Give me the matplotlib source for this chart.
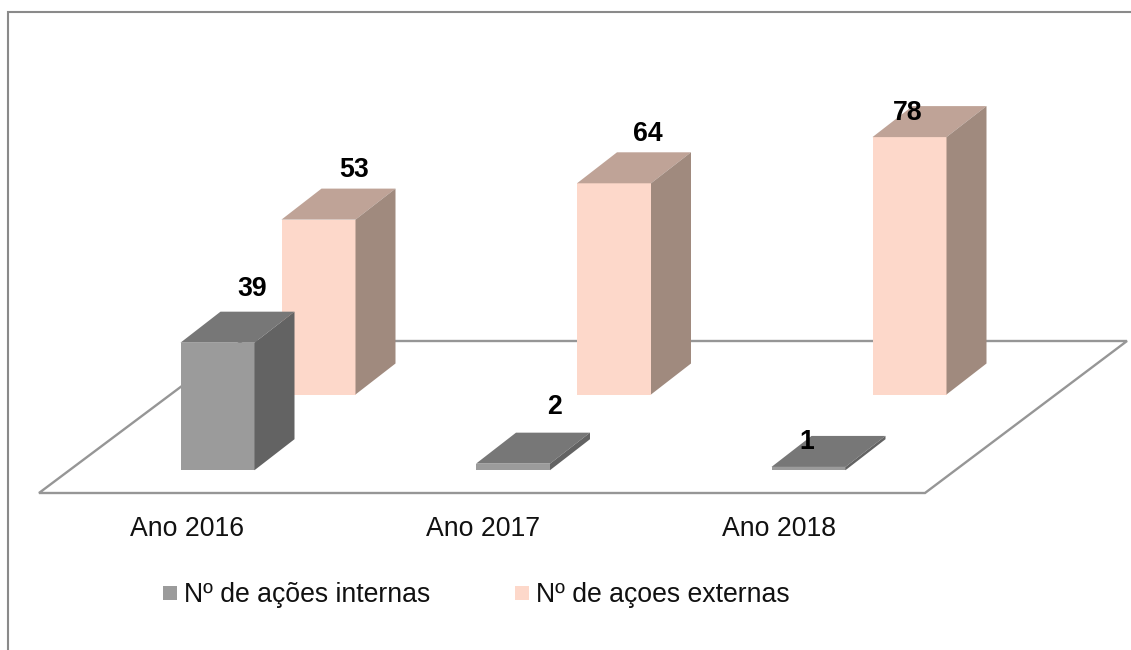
import matplotlib
matplotlib.use("Agg")
import matplotlib.pyplot as plt
from matplotlib.patches import Polygon, Rectangle

plt.rcParams['font.family'] = ['Liberation Sans', 'DejaVu Sans']

# --- Data ---
categories = ["Ano 2016", "Ano 2017", "Ano 2018"]
internas = [39, 2, 1]
externas = [53, 64, 78]
legend_labels = ["Nº de ações internas", "Nº de açoes externas"]

# --- Fake 3D geometry, in pixels ---
PX_PER_UNIT_BACK = 3.3
PX_PER_UNIT_FRONT = 3.27
BAR_W = 74
DEPTH_X, DEPTH_Y = 40, 31
SLOT = 295.5
FRONT_X0, FRONT_BASE = 180.5, 470.2
BACK_X0, BACK_BASE = 281.5, 394.5

GREY = ("#9b9b9b", "#777777", "#636363")
PEACH = ("#fdd8ca", "#bfa397", "#a08a7e")
LINE = "#969696"
TEXT_SIZE = 19.2


def draw_bar(ax, x, base, value, scale, colors, z):
    top = base - value * scale
    front, lid, side = colors
    ax.add_patch(Rectangle((x, top), BAR_W, base - top, fc=front, ec="none", zorder=z))
    ax.add_patch(Polygon([(x, top), (x + BAR_W, top),
                          (x + BAR_W + DEPTH_X, top - DEPTH_Y), (x + DEPTH_X, top - DEPTH_Y)],
                         fc=lid, ec="none", zorder=z))
    ax.add_patch(Polygon([(x + BAR_W, top), (x + BAR_W + DEPTH_X, top - DEPTH_Y),
                          (x + BAR_W + DEPTH_X, base - DEPTH_Y), (x + BAR_W, base)],
                         fc=side, ec="none", zorder=z))
    return top


fig = plt.figure(figsize=(11.31, 6.5), dpi=100)
ax = fig.add_axes([0, 0, 1, 1])
ax.set_xlim(0, 1131)
ax.set_ylim(650, 0)
ax.axis("off")

# chart frame, only top and left are visible in the crop
ax.plot([7.5, 7.5, 1131], [650, 12, 12], color="#8a8a8a", lw=1.5, solid_joinstyle="miter", zorder=1)

# floor
ax.add_patch(Polygon([(39, 493), (925, 493), (1127, 341), (242, 341)], closed=True,
                     fc="white", ec=LINE, lw=1.7, zorder=2))

# label offsets from the bar's top-front-centre, set by hand in the original
int_offsets = [(35, -54), (42, -57), (-2, -25)]
ext_offsets = [(36, -50), (34, -49), (-2, -24)]

for i, cat in enumerate(categories):
    x_back = BACK_X0 + i * SLOT
    top = draw_bar(ax, x_back, BACK_BASE, externas[i], PX_PER_UNIT_BACK, PEACH, 3)
    ax.text(x_back + BAR_W / 2 + ext_offsets[i][0], top + ext_offsets[i][1], str(externas[i]),
            ha="center", va="center", fontsize=TEXT_SIZE, fontweight="bold", color="black", zorder=6)

    x_front = FRONT_X0 + i * SLOT
    top = draw_bar(ax, x_front, FRONT_BASE, internas[i], PX_PER_UNIT_FRONT, GREY, 4)
    ax.text(x_front + BAR_W / 2 + int_offsets[i][0], top + int_offsets[i][1], str(internas[i]),
            ha="center", va="center", fontsize=TEXT_SIZE, fontweight="bold", color="black", zorder=6)

    ax.text(x_front + BAR_W / 2 - 30, 528.5, cat, ha="center", va="center", fontsize=TEXT_SIZE, color="#111111")

# legend
for x_sq, x_txt, col, lab in zip([163, 515], [184, 536], [GREY[0], PEACH[0]], legend_labels):
    ax.add_patch(Rectangle((x_sq, 586), 14, 14, fc=col, ec="none"))
    ax.text(x_txt, 595, lab, ha="left", va="center", fontsize=TEXT_SIZE, color="#111111")

fig.savefig("out.png", dpi=100)
